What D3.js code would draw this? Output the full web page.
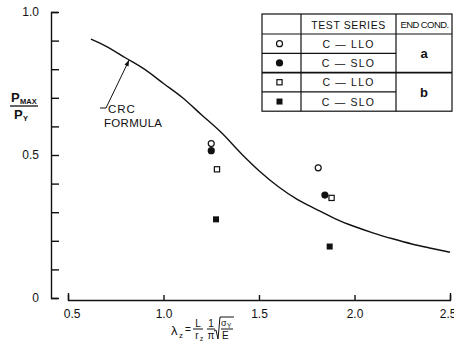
<!DOCTYPE html>
<html><head><meta charset="utf-8">
<script src="https://cdn.jsdelivr.net/npm/d3@7"></script>
<style>body{margin:0;background:#fff}svg{display:block}text{font-family:"Liberation Sans",Arial,sans-serif;fill:#111}</style>
</head><body><svg id="c" width="454" height="350"></svg>
<script>
// ---- data ----
const xTicks = [0.5, 1.0, 1.5, 2.0, 2.5];
const xTickLabels = ["0.5", "1.0", "1.5", "2.0", "2.5"];
const yTicks = [0, 0.1, 0.2, 0.3, 0.4, 0.5, 0.6, 0.7, 0.8, 0.9, 1.0];
const yTickLabels = {"0": "0", "0.5": "0.5", "1": "1.0"};
const crcLambda = [0.62, 0.7, 0.8, 0.9, 1.0, 1.1, 1.2, 1.3, 1.414, 1.5, 1.6, 1.7, 1.8, 1.9, 2.0, 2.1, 2.2, 2.3, 2.4, 2.5];
const crcValue  = [0.905, 0.88, 0.84, 0.80, 0.75, 0.70, 0.64, 0.58, 0.50, 0.445, 0.39, 0.345, 0.31, 0.277, 0.25, 0.227, 0.207, 0.189, 0.174, 0.16];
const openCircleX = [1.25, 1.81],  openCircleY = [0.54, 0.455];
const filledCircleX = [1.25, 1.845], filledCircleY = [0.515, 0.36];
const openSquareX = [1.28, 1.88],  openSquareY = [0.45, 0.35];
const filledSquareX = [1.275, 1.87], filledSquareY = [0.275, 0.18];
const legendSymbols = ["openCircle", "filledCircle", "openSquare", "filledSquare"];
const testSeries = ["C — LLO", "C — SLO", "C — LLO", "C — SLO"];
const endCond = ["a", "b"];
const arrowLambda = 0.82;

const svg = d3.select("#c");
const ink = "#111";
const x = d3.scaleLinear().domain([0.5, 2.5]).range([68, 450]);
const y = d3.scaleLinear().domain([0, 1]).range([298, 12]);

// CRC curve
const lineGen = d3.line().x(d => x(d[0])).y(d => y(d[1])).curve(d3.curveMonotoneX);
svg.append("path").datum(crcLambda.map((l, i) => [l, crcValue[i]]))
  .attr("d", lineGen).attr("fill", "none").attr("stroke", ink).attr("stroke-width", 1.4);

// annotation arrow
const interp = d3.scaleLinear().domain(crcLambda).range(crcValue);
const tipX = x(arrowLambda), tipY = y(interp(arrowLambda));
svg.append("path").attr("d", `M100,108H106L${tipX},${tipY}`).attr("fill", "none").attr("stroke", ink).attr("stroke-width", 1);
const ang = Math.atan2(tipY - 108, tipX - 106);
const ah = 6, aw = 2.2;
const bx = tipX - ah * Math.cos(ang), by = tipY - ah * Math.sin(ang);
svg.append("path").attr("d", `M${tipX},${tipY}L${bx - aw * Math.sin(ang)},${by + aw * Math.cos(ang)}L${bx + aw * Math.sin(ang)},${by - aw * Math.cos(ang)}Z`).attr("fill", ink);
svg.append("text").attr("x", 108).attr("y", 113).attr("font-size", 11.5).attr("letter-spacing", 1).text("CRC");
svg.append("text").attr("x", 104).attr("y", 127).attr("font-size", 11.5).attr("letter-spacing", 0.3).text("FORMULA");

// markers
function drawSym(g, kind, cx, cy) {
  if (kind === "openCircle") g.append("circle").attr("cx", cx).attr("cy", cy).attr("r", 3).attr("fill", "#fff").attr("stroke", ink).attr("stroke-width", 1.2);
  else if (kind === "filledCircle") g.append("circle").attr("cx", cx).attr("cy", cy).attr("r", 3.6).attr("fill", ink);
  else if (kind === "openSquare") g.append("rect").attr("x", cx - 2.6).attr("y", cy - 2.6).attr("width", 5.2).attr("height", 5.2).attr("fill", "#fff").attr("stroke", ink).attr("stroke-width", 1.2);
  else g.append("rect").attr("x", cx - 3).attr("y", cy - 3).attr("width", 6).attr("height", 6).attr("fill", ink);
}
const pts = svg.append("g");
[[openCircleX, openCircleY, "openCircle"], [filledCircleX, filledCircleY, "filledCircle"],
 [openSquareX, openSquareY, "openSquare"], [filledSquareX, filledSquareY, "filledSquare"]]
  .forEach(([xs, ys, k]) => xs.forEach((v, i) => drawSym(pts, k, x(v), y(ys[i]))));

// legend table
const tL = 262, tR = 452, tT = 14, c1 = 301, c2 = 396, hH = 20, rH = 19.3;
const lg = svg.append("g").attr("stroke", ink).attr("stroke-width", 1.2);
lg.append("rect").attr("x", tL).attr("y", tT).attr("width", tR - tL).attr("height", hH + 4 * rH).attr("fill", "none");
lg.append("line").attr("x1", c1).attr("x2", c1).attr("y1", tT).attr("y2", tT + hH + 4 * rH);
lg.append("line").attr("x1", c2).attr("x2", c2).attr("y1", tT).attr("y2", tT + hH + 4 * rH);
lg.append("line").attr("x1", tL).attr("x2", tR).attr("y1", tT + hH).attr("y2", tT + hH);
[1, 3].forEach(r => lg.append("line").attr("x1", tL).attr("x2", c2).attr("y1", tT + hH + r * rH).attr("y2", tT + hH + r * rH));
lg.append("line").attr("x1", tL).attr("x2", tR).attr("y1", tT + hH + 2 * rH).attr("y2", tT + hH + 2 * rH).attr("stroke-width", 1.6);
svg.append("text").attr("x", (c1 + c2) / 2).attr("y", tT + 14.5).attr("text-anchor", "middle").attr("font-size", 10.5).attr("letter-spacing", 0.6).text("TEST SERIES");
svg.append("text").attr("x", (c2 + tR) / 2 + 0.5).attr("y", tT + 14).attr("text-anchor", "middle").attr("font-size", 9.5).attr("letter-spacing", -0.6).text("END COND.");
legendSymbols.forEach((k, i) => {
  const cy = tT + hH + (i + 0.5) * rH;
  drawSym(svg, k, (tL + c1) / 2 - 2, cy);
  svg.append("text").attr("x", (c1 + c2) / 2).attr("y", cy + 4).attr("text-anchor", "middle").attr("font-size", 10.5).attr("letter-spacing", 1.2).text(testSeries[i]);
});
endCond.forEach((t, i) => svg.append("text").attr("x", (c2 + tR) / 2).attr("y", tT + hH + (2 * i + 1) * rH + 5).attr("text-anchor", "middle").attr("font-size", 13).attr("font-weight", "bold").text(t));

// y label
const yl = svg.append("g");
yl.append("text").attr("x", 11).attr("y", 102).attr("font-size", 13).attr("font-weight", "bold").text("P");
yl.append("text").attr("x", 20).attr("y", 104).attr("font-size", 7.5).attr("font-weight", "bold").text("MAX");
yl.append("line").attr("x1", 10).attr("x2", 38).attr("y1", 106).attr("y2", 106).attr("stroke", ink).attr("stroke-width", 1.3);
yl.append("text").attr("x", 14).attr("y", 119).attr("font-size", 13).attr("font-weight", "bold").text("P");
yl.append("text").attr("x", 23).attr("y", 121).attr("font-size", 7.5).attr("font-weight", "bold").text("Y");

// x label
const xl = svg.append("g");
xl.append("text").attr("x", 171).attr("y", 335).attr("font-size", 13).text("λ");
xl.append("text").attr("x", 179).attr("y", 338).attr("font-size", 8).text("z");
xl.append("text").attr("x", 185).attr("y", 333).attr("font-size", 10).text("=");
xl.append("text").attr("x", 198).attr("y", 327).attr("font-size", 10).attr("text-anchor", "middle").text("L");
xl.append("line").attr("x1", 193).attr("x2", 203).attr("y1", 329).attr("y2", 329).attr("stroke", ink).attr("stroke-width", 1);
xl.append("text").attr("x", 197).attr("y", 339).attr("font-size", 10).attr("text-anchor", "middle").text("r");
xl.append("text").attr("x", 200).attr("y", 341).attr("font-size", 6.5).text("z");
xl.append("text").attr("x", 211).attr("y", 327).attr("font-size", 10).attr("text-anchor", "middle").text("1");
xl.append("line").attr("x1", 207).attr("x2", 215).attr("y1", 329).attr("y2", 329).attr("stroke", ink).attr("stroke-width", 1);
xl.append("text").attr("x", 211).attr("y", 339).attr("font-size", 10).attr("text-anchor", "middle").text("π");
xl.append("path").attr("d", "M214,331L216,330L218,339L220,317H234").attr("fill", "none").attr("stroke", ink).attr("stroke-width", 1);
xl.append("text").attr("x", 221).attr("y", 326).attr("font-size", 9).text("σ");
xl.append("text").attr("x", 227).attr("y", 328).attr("font-size", 6.5).text("Y");
xl.append("line").attr("x1", 221).attr("x2", 233).attr("y1", 329).attr("y2", 329).attr("stroke", ink).attr("stroke-width", 1);
xl.append("text").attr("x", 222).attr("y", 339).attr("font-size", 10).text("E");

// axes (drawn last)
const gy = svg.append("g").attr("transform", "translate(51,0)")
  .call(d3.axisLeft(y).tickValues(yTicks).tickSizeInner(-8).tickSizeOuter(-7).tickPadding(12)
    .tickFormat(d => yTickLabels[String(+d.toFixed(1))] || ""));
gy.selectAll("path,line").attr("stroke", ink).attr("stroke-width", 1.4);
gy.selectAll("text").attr("font-size", 12).attr("fill", ink);

const gx = svg.append("g").attr("transform", "translate(0,300)")
  .call(d3.axisBottom(x).tickValues(xTicks).tickSizeInner(-5).tickSizeOuter(-7).tickPadding(9)
    .tickFormat((d, i) => xTickLabels[i]));
gx.selectAll("path,line").attr("stroke", ink).attr("stroke-width", 1.4);
gx.selectAll("text").attr("font-size", 12).attr("fill", ink);
gx.selectAll(".tick text").filter(d => d === 2.5).attr("text-anchor", "end").attr("dx", "0.5em");
gx.selectAll(".tick text").filter(d => d === 0.5).attr("dx", "0.3em");
</script></body></html>
